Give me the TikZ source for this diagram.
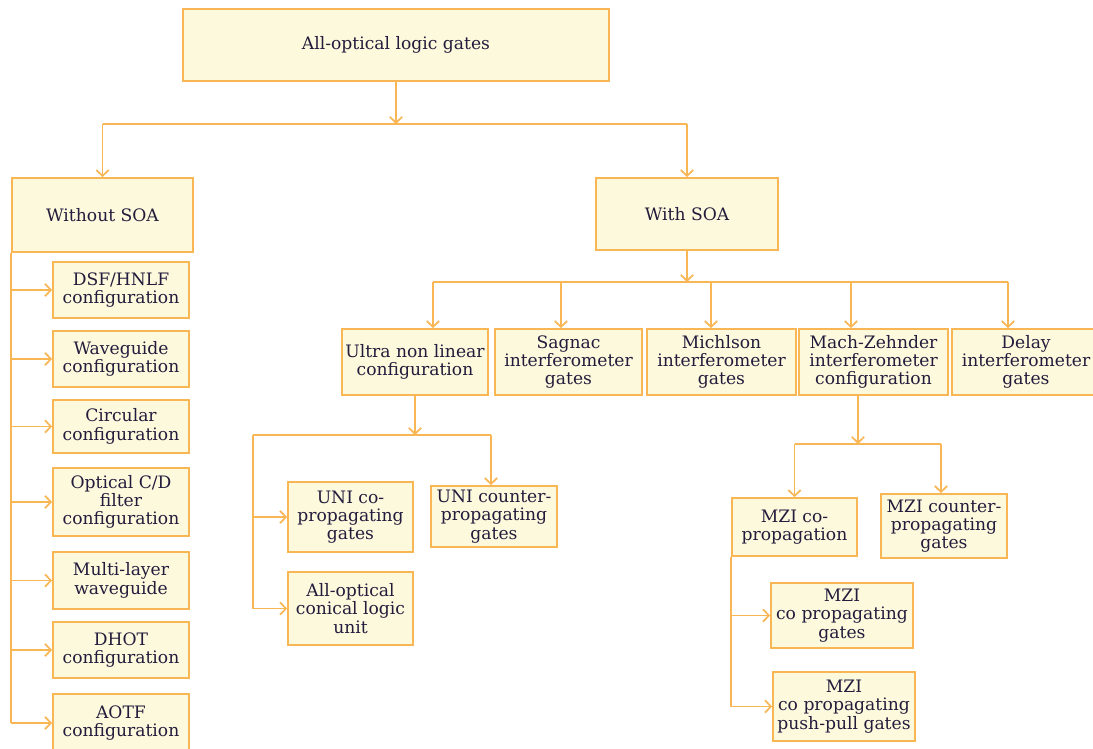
\documentclass[tikz,border=0pt]{standalone}
\usepackage{fontspec}
\setmainfont{DejaVu Serif}
\usepackage{tikz}
\usetikzlibrary{arrows.meta}
\usepackage{xcolor}
\definecolor{lineorange}{HTML}{F8B654}
\definecolor{boxfill}{HTML}{FDF9DD}
\definecolor{gatetext}{HTML}{231C3C}

\begin{document}
\begin{tikzpicture}[x=0.025cm,y=-0.025cm,>={Straight Barb[length=1.5mm,width=3.1mm]},
  gate/.style={draw=lineorange,fill=boxfill,line width=1.2pt,align=center,inner sep=1pt,text=gatetext,font=\fontsize{12.2}{13}\selectfont},
  link/.style={draw=lineorange,line width=1.2pt}]
\useasboundingbox[fill=white] (0,0) rectangle (1093,749);
\node[gate,minimum width=10.65cm,minimum height=1.8cm] (root) at (396,45) {All-optical logic gates};
\node[gate,minimum width=4.525cm,minimum height=1.85cm] (without) at (102.5,215) {Without SOA};
\node[gate,minimum width=4.55cm,minimum height=1.8cm] (with) at (687,214) {With SOA};
\node[gate,minimum width=3.4cm,minimum height=1.4cm] (dsf) at (121,290) {DSF/HNLF\\configuration};
\node[gate,minimum width=3.4cm,minimum height=1.4cm] (wave) at (121,359) {Waveguide\\configuration};
\node[gate,minimum width=3.4cm,minimum height=1.325cm] (circ) at (121,426.5) {Circular\\configuration};
\node[gate,minimum width=3.4cm,minimum height=1.7cm] (cdf) at (121,502) {Optical C/D\\filter\\configuration};
\node[gate,minimum width=3.4cm,minimum height=1.425cm] (mlayer) at (121,580.5) {Multi-layer\\waveguide};
\node[gate,minimum width=3.4cm,minimum height=1.4cm] (dhot) at (121,650) {DHOT\\configuration};
\node[gate,minimum width=3.4cm,minimum height=1.45cm] (aotf) at (121,723) {AOTF\\configuration};
\node[gate,minimum width=3.65cm,minimum height=1.65cm] (ultra) at (415,362) {Ultra non linear\\configuration};
\node[gate,minimum width=3.675cm,minimum height=1.65cm] (sagnac) at (568.5,362) {Sagnac\\interferometer\\gates};
\node[gate,minimum width=3.725cm,minimum height=1.65cm] (michelson) at (721.5,362) {Michlson\\interferometer\\gates};
\node[gate,minimum width=3.725cm,minimum height=1.65cm] (mzi) at (873.5,362) {Mach-Zehnder\\interferometer\\configuration};
\node[gate,minimum width=3.7cm,minimum height=1.65cm] (delay) at (1026,362) {Delay\\interferometer\\gates};
\node[gate,minimum width=3.125cm,minimum height=1.75cm] (unico) at (350.5,517) {UNI co-\\propagating\\gates};
\node[gate,minimum width=3.15cm,minimum height=1.525cm] (unicounter) at (494,516.5) {UNI counter-\\propagating\\gates};
\node[gate,minimum width=3.125cm,minimum height=1.825cm] (conical) at (350.5,608.5) {All-optical\\conical logic\\unit};
\node[gate,minimum width=3.125cm,minimum height=1.45cm] (mzico) at (794.5,527) {MZI co-\\propagation};
\node[gate,minimum width=3.15cm,minimum height=1.6cm] (mzicounter) at (944,526) {MZI counter-\\propagating\\gates};
\node[gate,minimum width=3.55cm,minimum height=1.625cm] (mzigates) at (842,615.5) {MZI\\co propagating\\gates};
\node[gate,minimum width=3.55cm,minimum height=1.725cm] (pushpull) at (844,706.5) {MZI\\co propagating\\push-pull gates};
\coordinate (topbar) at (396,124);
\coordinate (topbarL) at (102.5,124);
\coordinate (topbarR) at (687,124);
\draw[link,->] (root) -- (topbar);
\draw[link] (topbarL) -- (topbarR);
\draw[link,->] (topbarL) -- (without);
\draw[link,->] (topbarR) -- (with);
\draw[link] (without.south west) -- (without.south west |- aotf.west);
\foreach \n in {dsf,wave,circ,cdf,mlayer,dhot,aotf}
  \draw[link,->] (without.south west |- \n.west) -- (\n.west);
\coordinate (soabar) at (687,282);
\draw[link,->] (with) -- (soabar);
\foreach \n/\x in {ultra/433,sagnac/561,michelson/711,mzi/851,delay/1008}{
  \coordinate (\n-in) at (\x,282);
  \draw[link,->] (\n-in) -- (\n-in |- \n.north);
}
\draw[link] (ultra-in) -- (delay-in);
\coordinate (unibar) at (415,435);
\coordinate (unibarL) at (253,435);
\coordinate (unibarR) at (491,435);
\draw[link,->] (ultra) -- (unibar);
\draw[link] (unibarL) -- (unibarR);
\draw[link,->] (unibarR) -- (unibarR |- unicounter.north);
\draw[link] (unibarL) -- (unibarL |- conical.west);
\draw[link,->] (unibarL |- unico.west) -- (unico.west);
\draw[link,->] (unibarL |- conical.west) -- (conical.west);
\coordinate (mzbar) at (858,444);
\coordinate (mzbarL) at (794.5,444);
\coordinate (mzbarR) at (941,444);
\draw[link,->] (mzbar |- mzi.south) -- (mzbar);
\draw[link] (mzbarL) -- (mzbarR);
\draw[link,->] (mzbarL) -- (mzbarL |- mzico.north);
\draw[link,->] (mzbarR) -- (mzbarR |- mzicounter.north);
\draw[link] (mzico.south west) -- (mzico.south west |- pushpull.west);
\draw[link,->] (mzico.south west |- mzigates.west) -- (mzigates.west);
\draw[link,->] (mzico.south west |- pushpull.west) -- (pushpull.west);
\end{tikzpicture}
\end{document}
